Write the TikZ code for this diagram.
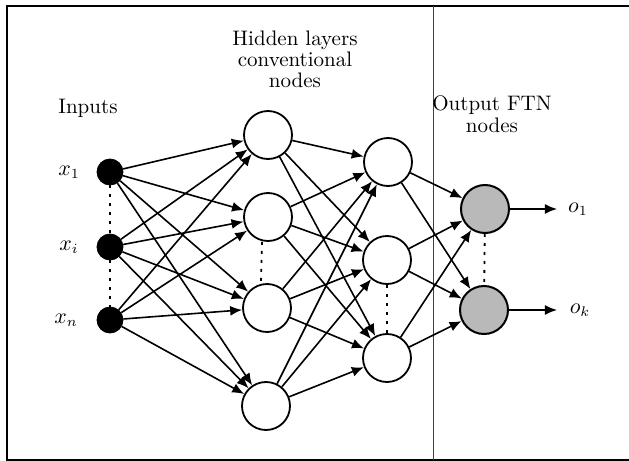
\documentclass[tikz,border=0pt]{standalone}
\usetikzlibrary{arrows.meta}
\begin{document}
\begin{tikzpicture}[x=0.5pt,y=-0.5pt,
 inp/.style={circle,fill=black,draw=black,minimum size=13pt,inner sep=0pt},
 hid/.style={circle,draw=black,line width=0.9pt,minimum size=24pt,inner sep=0pt,fill=white},
 outn/.style={circle,draw=black,line width=1pt,fill=gray!55,minimum size=24pt,inner sep=0pt},
 conn/.style={line width=0.8pt,-{Latex[length=6pt,width=5pt]}},
 dotln/.style={line width=0.9pt,dash pattern=on 1.5pt off 3pt},
 lbl/.style={font=\fontsize{10.5}{10.5}\selectfont,align=center,inner sep=0pt}]
\useasboundingbox (0,0) rectangle (629,461);
\draw[line width=0.6pt] (629,6) -- (7,6) -- (7,460) -- (629,460);
\draw[line width=0.45pt,black!75] (433,6) -- (433,460);

% labels
\node[lbl] (thid) at (295,59) {Hidden layers\\conventional\\nodes};
\node[lbl] (tin) at (88,108) {Inputs};
\node[lbl,font=\fontsize{10.5}{11}\selectfont] (tout) at (492,114) {Output FTN\\nodes};

% input nodes
\node[inp] (x1) at (110,172) {};
\node[inp] (xi) at (110,247) {};
\node[inp] (xn) at (110,320) {};
\node[lbl] (lx1) at (69,172) {$x_1$};
\node[lbl] (lxi) at (69,247) {$x_i$};
\node[lbl] (lxn) at (66,320) {$x_n$};

% hidden layer 1
\node[hid] (h1) at (268,135) {};
\node[hid] (h2) at (268,217) {};
\node[hid] (h3) at (267,308) {};
\node[hid] (h4) at (266,406) {};

% hidden layer 2
\node[hid] (g1) at (388,162) {};
\node[hid] (g2) at (387,260) {};
\node[hid] (g3) at (387,358) {};

% outputs
\node[outn] (o1) at (485,209) {};
\node[outn] (ok) at (484,310) {};
\coordinate (e1) at (557,209);
\coordinate (ek) at (557,310);
\node[lbl] (lo1) at (578,209) {$o_1$};
\node[lbl] (lok) at (580,310) {$o_k$};

% connections
\foreach \a in {x1,xi,xn} \foreach \b in {h1,h2,h3,h4} \draw[conn] (\a) -- (\b);
\foreach \a in {h1,h2,h3,h4} \foreach \b in {g1,g2,g3} \draw[conn] (\a) -- (\b);
\foreach \a in {g1,g2,g3} \foreach \b in {o1,ok} \draw[conn] (\a) -- (\b);
\draw[conn] (o1) -- (e1);
\draw[conn] (ok) -- (ek);

% dotted
\draw[dotln] (x1) -- (xi);
\draw[dotln] (xi) -- (xn);
\draw[dotln] ([xshift=-3pt]h2.south) -- ([xshift=-3pt]h3.north);
\draw[dotln] (g2) -- (g3);
\draw[dotln] (o1) -- (ok);
\end{tikzpicture}
\end{document}
